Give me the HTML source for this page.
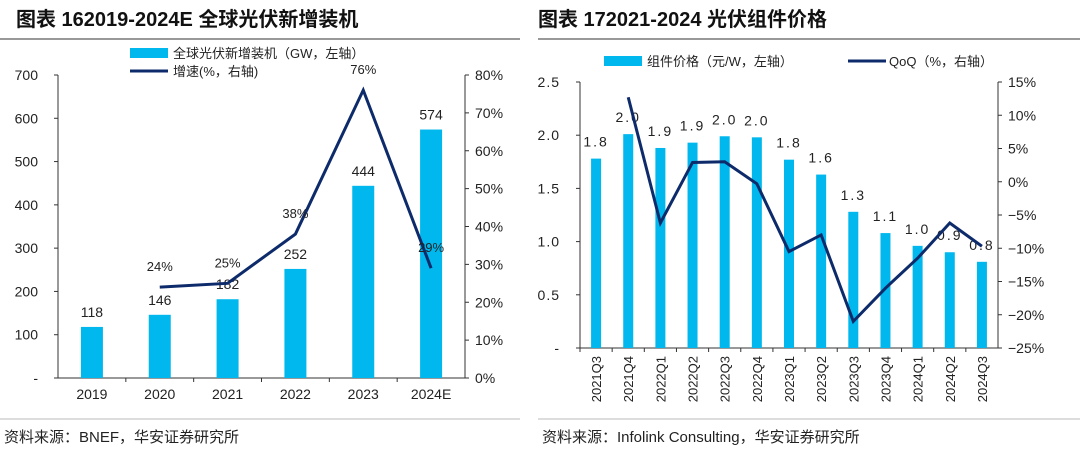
<!DOCTYPE html>
<html><head><meta charset="utf-8"><style>
body{margin:0;background:#fff;width:1080px;height:448px;overflow:hidden;font-family:"Liberation Sans","Noto Sans CJK SC",sans-serif}
svg text{font-family:"Liberation Sans","Noto Sans CJK SC",sans-serif}
</style></head><body>
<svg id="s" width="1080" height="448">
<g id="static">
<text x="16" y="26" font-size="20" font-weight="bold" fill="#111">图表 162019-2024E 全球光伏新增装机</text>
<text x="538" y="26" font-size="20" font-weight="bold" fill="#111">图表 172021-2024 光伏组件价格</text>
<line x1="0" y1="39" x2="520" y2="39" stroke="#999" stroke-width="2"/>
<line x1="538" y1="39" x2="1080" y2="39" stroke="#999" stroke-width="2"/>
<line x1="0" y1="419" x2="520" y2="419" stroke="#bbb" stroke-width="1"/>
<line x1="538" y1="419" x2="1080" y2="419" stroke="#bbb" stroke-width="1"/>
<text x="4" y="442" font-size="15" fill="#222">资料来源：BNEF，华安证券研究所</text>
<text x="542" y="442" font-size="15" fill="#222">资料来源：Infolink Consulting，华安证券研究所</text>
<rect x="130" y="48" width="38" height="10" fill="#00B8EE"/>
<text x="173" y="58" font-size="13" fill="#222">全球光伏新增装机（GW，左轴）</text>
<line x1="130" y1="71" x2="168" y2="71" stroke="#0D2B6B" stroke-width="3"/>
<text x="173" y="76" font-size="13" fill="#222">增速(%，右轴)</text>
<rect x="604" y="56" width="38" height="10" fill="#00B8EE"/>
<text x="647" y="66" font-size="13" fill="#222">组件价格（元/W，左轴）</text>
<line x1="848" y1="61" x2="886" y2="61" stroke="#0D2B6B" stroke-width="3"/>
<text x="889" y="66" font-size="13" fill="#222">QoQ（%，右轴）</text>
</g>
<g id="dyn"></g>
</svg>
<script>
const yearsL=["2019","2020","2021","2022","2023","2024E"];
const installs=[118,146,182,252,444,574];
const growth=[null,24,25,38,76,29];
const leftTicks=[0,100,200,300,400,500,600,700];
const rightTicksL=[0,10,20,30,40,50,60,70,80];

const quarters=["2021Q3","2021Q4","2022Q1","2022Q2","2022Q3","2022Q4","2023Q1","2023Q2","2023Q3","2023Q4","2024Q1","2024Q2","2024Q3"];
const prices=[1.78,2.01,1.88,1.93,1.99,1.98,1.77,1.63,1.28,1.08,0.96,0.90,0.81];
const priceLabels=["1.8","2.0","1.9","1.9","2.0","2.0","1.8","1.6","1.3","1.1","1.0","0.9","0.8"];
const qoq=[null,12.7,-6.2,2.9,3.0,-0.3,-10.5,-8.0,-21.0,-16.0,-11.5,-6.2,-9.7];
const priceTicks=[0,0.5,1.0,1.5,2.0,2.5];
const qoqTicks=[-25,-20,-15,-10,-5,0,5,10,15];

const NS="http://www.w3.org/2000/svg";
const g=document.getElementById('dyn');
function mk(t,a,txt){const e=document.createElementNS(NS,t);for(const k in a)e.setAttribute(k,a[k]);if(txt!=null)e.textContent=txt;g.appendChild(e);return e;}

// ---- Left chart
const L={x0:58,x1:465,yT:75,yB:378};
const lx=i=>L.x0+(L.x1-L.x0)/yearsL.length*(i+0.5);
const ly=v=>L.yB-(v/700)*(L.yB-L.yT);
const lr=v=>L.yB-(v/80)*(L.yB-L.yT);
let e;
e=mk('line',{x1:L.x0,y1:L.yT,x2:L.x0,y2:L.yB,stroke:'#333'});


e=mk('line',{x1:L.x1,y1:L.yT,x2:L.x1,y2:L.yB,stroke:'#333'});


e=mk('line',{x1:L.x0,y1:L.yB,x2:L.x1,y2:L.yB,stroke:'#333'});


leftTicks.forEach(v=>{
 mk('line',{x1:L.x0-4,y1:ly(v),x2:L.x0,y2:ly(v),stroke:'#333'});
 e=mk('text',{x:L.x0-20,y:ly(v)+5,'font-size':14,'text-anchor':'end',fill:'#222'},v===0?'-':String(v));
 
 
});
rightTicksL.forEach(v=>{
 mk('line',{x1:L.x1,y1:lr(v),x2:L.x1+4,y2:lr(v),stroke:'#333'});
 e=mk('text',{x:L.x1+10,y:lr(v)+5,'font-size':14,fill:'#222'},v+'%');
 
 
});
yearsL.forEach((c,i)=>{
 const bw=22,x=lx(i);
 e=mk('rect',{x:x-bw/2,y:ly(installs[i]),width:bw,height:L.yB-ly(installs[i]),fill:'#00B8EE'});
 
 
 e=mk('text',{x:x,y:ly(installs[i])-10,'font-size':14,'text-anchor':'middle',fill:'#222'},String(installs[i]));
 
 
 e=mk('text',{x:x,y:L.yB+21,'font-size':14,'text-anchor':'middle',fill:'#222'},c);
 
 
 if(i>0) mk('line',{x1:L.x0+(L.x1-L.x0)/6*i,y1:L.yB,x2:L.x0+(L.x1-L.x0)/6*i,y2:L.yB+4,stroke:'#333'});
});
let pts=[];
growth.forEach((v,i)=>{if(v!=null)pts.push(lx(i)+','+lr(v));});
e=mk('polyline',{points:pts.join(' '),fill:'none',stroke:'#0D2B6B','stroke-width':3,'stroke-linejoin':'miter'});


growth.forEach((v,i)=>{if(v==null)return;
 e=mk('text',{x:lx(i),y:lr(v)-16,'font-size':13,'text-anchor':'middle',fill:'#222'},v+'%');
 
 
});

// ---- Right chart
const R={x0:580,x1:998,yT:82,yB:348};
const rx=i=>R.x0+(R.x1-R.x0)/quarters.length*(i+0.5);
const ry=v=>R.yB-(v/2.5)*(R.yB-R.yT);
const rq=v=>R.yB-((v+25)/40)*(R.yB-R.yT);
e=mk('line',{x1:R.x0,y1:R.yT,x2:R.x0,y2:R.yB,stroke:'#333'});


e=mk('line',{x1:R.x1,y1:R.yT,x2:R.x1,y2:R.yB,stroke:'#333'});


e=mk('line',{x1:R.x0,y1:R.yB,x2:R.x1,y2:R.yB,stroke:'#333'});


priceTicks.forEach(v=>{
 mk('line',{x1:R.x0-4,y1:ry(v),x2:R.x0,y2:ry(v),stroke:'#333'});
 e=mk('text',{x:R.x0-20,y:ry(v)+5,'font-size':14,'text-anchor':'end',fill:'#222','letter-spacing':'1'},v===0?'-':v.toFixed(1));
 
 
});
qoqTicks.forEach(v=>{
 mk('line',{x1:R.x1,y1:rq(v),x2:R.x1+4,y2:rq(v),stroke:'#333'});
 e=mk('text',{x:R.x1+10,y:rq(v)+5,'font-size':14,fill:'#222'},(v<0?'−':'')+Math.abs(v)+'%');
 
 
});
const cw=(R.x1-R.x0)/quarters.length;
quarters.forEach((c,i)=>{
 const bw=10,x=rx(i);
 mk('line',{x1:R.x0+cw*i,y1:R.yB,x2:R.x0+cw*i,y2:R.yB+4,stroke:'#333'});
 e=mk('rect',{x:x-bw/2,y:ry(prices[i]),width:bw,height:R.yB-ry(prices[i]),fill:'#00B8EE'});
 
 
 e=mk('text',{x:x,y:ry(prices[i])-12,'font-size':14,'text-anchor':'middle',fill:'#222','letter-spacing':'2'},priceLabels[i]);
 
 
 e=mk('text',{x:0,y:0,'font-size':13,'text-anchor':'end',fill:'#222',transform:'translate('+(x+5)+','+(R.yB+8)+') rotate(-90)'},c);
 
 
});
pts=[];
qoq.forEach((v,i)=>{if(v!=null)pts.push(rx(i)+','+rq(v));});
e=mk('polyline',{points:pts.join(' '),fill:'none',stroke:'#0D2B6B','stroke-width':3});


</script>
</body></html>
